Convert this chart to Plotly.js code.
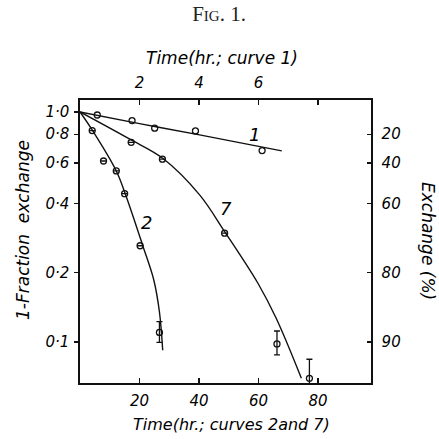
<!DOCTYPE html>
<html>
<head>
<meta charset="utf-8">
<script src="https://cdn.plot.ly/plotly-3.0.1.min.js"></script>
<style>html,body{margin:0;padding:0;background:#fff;}#chart{width:439px;height:439px;}</style>
</head>
<body>
<div id="chart"></div>
<script>
// ---- data ----
// Curve 1 (time in hr, top axis)
const curve1Time = [0.58, 1.75, 2.51, 3.88, 6.12];
const curve1Val  = [0.97, 0.917, 0.85, 0.827, 0.679];
const curve1LineTime = [0, 2, 4.02, 6.78];
const curve1LineVal  = [1.0, 0.89, 0.795, 0.677];

// Curve 2 (time in hr, bottom axis)
const curve2Time = [4.1, 7.9, 12.2, 15.0, 20.2, 26.7];
const curve2Val  = [0.83, 0.612, 0.554, 0.441, 0.262, 0.110];
const curve2ErrPlus  = [0, 0, 0, 0, 0, 0.0125];
const curve2ErrMinus = [0, 0, 0, 0, 0, 0.0105];
const curve2LineTime = [0, 4.1, 12.2, 15.5, 21.1, 24.8, 26.7, 27.8];
const curve2LineVal  = [1.0, 0.835, 0.554, 0.43, 0.262, 0.186, 0.135, 0.092];

// Curve 7 (time in hr, bottom axis)
const curve7Time = [17.2, 27.7, 48.6, 66.2, 77.1];
const curve7Val  = [0.738, 0.623, 0.297, 0.098, 0.0695];
const curve7ErrPlus  = [0, 0, 0, 0.0136, 0.0146];
const curve7ErrMinus = [0, 0, 0, 0.0102, 0.02];
const curve7LineTime = [0, 16.6, 27.8, 40.2, 48.6, 59.8, 65.9, 74.4];
const curve7LineVal  = [1.0, 0.763, 0.629, 0.436, 0.302, 0.18, 0.127, 0.0695];

// Axis ticks
const leftTickVals  = [1.0, 0.8, 0.6, 0.4, 0.2, 0.1];
const leftTickText  = ['1·0', '0·8', '0·6', '0·4', '0·2', '0·1'];
const rightTickVals = [0.8, 0.6, 0.4, 0.2, 0.1];
const rightTickText = ['20', '40', '60', '80', '90'];
const bottomTickVals = [20, 40, 60, 80];
const bottomTickText = ['20', '40', '60', '80'];
const topTickVals = [2, 4, 6, 8];
const topTickText = ['2', '4', '6', ''];

// Curve labels
const labelText = ['1', '7', '2'];
const labelTime = [58.7, 49.1, 22.4];
const labelVal  = [0.794, 0.381, 0.329];

// ---- styling ----
const FONT = 'DejaVu Sans, sans-serif';
const tickFont = {family: FONT, size: 15, color: '#000', style: 'italic'};
const lineStyle = {color: '#111', width: 1.4, shape: 'spline', smoothing: 1};
const markerStyle = {symbol: 'circle-open', size: 6, color: '#111', line: {width: 1.3, color: '#111'}};

const traces = [
  {x: curve1LineTime, y: curve1LineVal, xaxis: 'x2', yaxis: 'y', mode: 'lines', line: lineStyle, hoverinfo: 'skip'},
  {x: curve1Time, y: curve1Val, xaxis: 'x2', yaxis: 'y', mode: 'markers', marker: markerStyle},
  {x: curve2LineTime, y: curve2LineVal, xaxis: 'x', yaxis: 'y', mode: 'lines', line: lineStyle, hoverinfo: 'skip'},
  {x: curve2Time, y: curve2Val, xaxis: 'x', yaxis: 'y', mode: 'markers', marker: markerStyle,
   error_y: {type: 'data', symmetric: false, array: curve2ErrPlus, arrayminus: curve2ErrMinus, color: '#111', thickness: 1.3, width: 3}},
  {x: curve7LineTime, y: curve7LineVal, xaxis: 'x', yaxis: 'y', mode: 'lines', line: lineStyle, hoverinfo: 'skip'},
  {x: curve7Time, y: curve7Val, xaxis: 'x', yaxis: 'y', mode: 'markers', marker: markerStyle,
   error_y: {type: 'data', symmetric: false, array: curve7ErrPlus, arrayminus: curve7ErrMinus, color: '#111', thickness: 1.3, width: 3}},
  // carrier for right axis (no visible marks)
  {x: curve7Time, y: curve7Val, xaxis: 'x', yaxis: 'y2', mode: 'markers', marker: {opacity: 0}, hoverinfo: 'skip'}
];

const yRange = [Math.log10(0.0663), Math.log10(1.127)];

const annotations = labelText.map((t, i) => ({
  x: labelTime[i], y: Math.log10(labelVal[i]), xref: 'x', yref: 'y', text: t, showarrow: false,
  font: {family: FONT, size: 18, color: '#000', style: 'italic'}
}));
annotations.push(
  {x: 0.5, y: (383 - 58) / 283, xref: 'paper', yref: 'paper', text: 'Time(hr.; curve 1)', showarrow: false,
   xanchor: 'center', yanchor: 'middle', xshift: -4, font: {family: FONT, size: 17, color: '#000', style: 'italic'}},
  {x: 0.5, y: (383 - 424) / 283, xref: 'paper', yref: 'paper', text: 'Time(hr.; curves 2and 7)', showarrow: false,
   xanchor: 'center', yanchor: 'middle', xshift: 6, font: {family: FONT, size: 16, color: '#000', style: 'italic'}},
  {x: (23 - 80) / 291, y: (383 - 230) / 283, xref: 'paper', yref: 'paper', text: '1-Fraction  exchange', showarrow: false,
   textangle: -90, xanchor: 'center', yanchor: 'middle', font: {family: FONT, size: 17, color: '#000', style: 'italic'}},
  {x: (428 - 80) / 291, y: (383 - 241) / 283, xref: 'paper', yref: 'paper', text: 'Exchange (%)', showarrow: false,
   textangle: 90, xanchor: 'center', yanchor: 'middle', font: {family: FONT, size: 17, color: '#000', style: 'italic'}}
);

const layout = {
  width: 439, height: 439,
  margin: {l: 80, r: 68, t: 100, b: 56},
  paper_bgcolor: '#fff', plot_bgcolor: '#fff',
  showlegend: false,
  title: {text: 'Fig. 1.', x: 0.499, xanchor: 'center', y: 1 - 14 / 439, yanchor: 'middle',
          font: {family: 'Liberation Serif, serif', size: 21, color: '#222', variant: 'small-caps'}},
  xaxis: {range: [0, 97.8], tickvals: bottomTickVals, ticktext: bottomTickText, ticks: 'inside', ticklen: 5,
          tickwidth: 1.2, tickcolor: '#111', showline: true, linecolor: '#111', linewidth: 1.6,
          showgrid: false, zeroline: false, tickfont: tickFont, ticklabelstandoff: 3, fixedrange: true},
  xaxis2: {overlaying: 'x', side: 'top', anchor: 'y', range: [0, 9.78], tickvals: topTickVals, ticktext: topTickText,
           ticks: 'inside', ticklen: 5, tickwidth: 1.2, tickcolor: '#111', showline: true, linecolor: '#111',
           linewidth: 1.6, showgrid: false, zeroline: false, tickfont: tickFont, ticklabelstandoff: 4},
  yaxis: {type: 'log', range: yRange, tickvals: leftTickVals, ticktext: leftTickText, ticks: 'outside', ticklen: 4,
          tickwidth: 1.2, tickcolor: '#111', showline: true, linecolor: '#111', linewidth: 1.6,
          showgrid: false, zeroline: false, tickfont: tickFont, ticklabelstandoff: 2},
  yaxis2: {type: 'log', overlaying: 'y', side: 'right', anchor: 'x', range: yRange, tickvals: rightTickVals,
           ticktext: rightTickText, ticks: 'inside', ticklen: 4, tickwidth: 1.2, tickcolor: '#111', showline: true,
           linecolor: '#111', linewidth: 1.6, showgrid: false, zeroline: false, tickfont: tickFont, ticklabelstandoff: 6},
  annotations: annotations
};

Plotly.newPlot('chart', traces, layout, {staticPlot: true, displayModeBar: false});
</script>
</body>
</html>
